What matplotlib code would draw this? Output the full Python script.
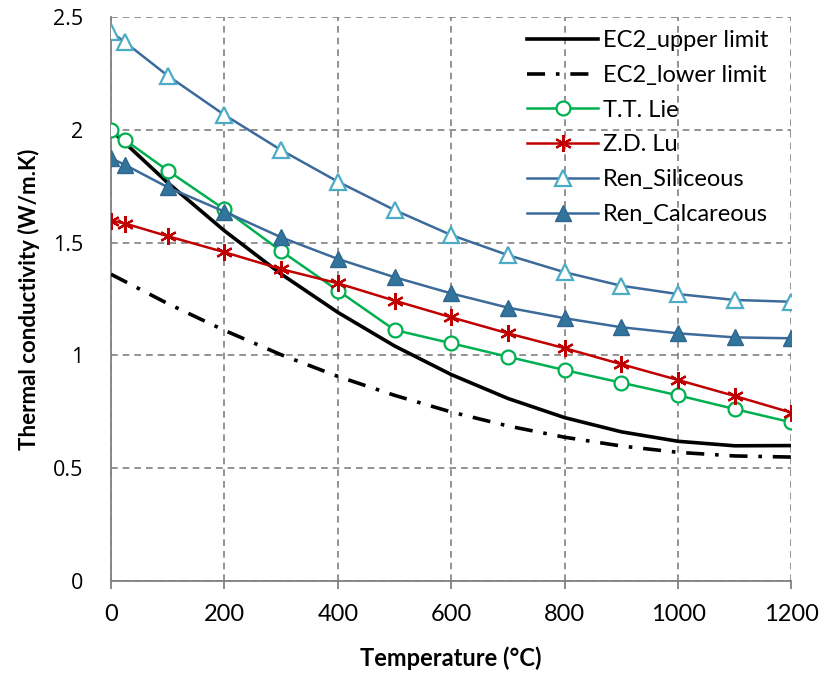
import matplotlib.pyplot as plt

# Temperatures (°C) and thermal conductivity values (W/m.K)
temp_ec2 = [0, 100, 200, 300, 400, 500, 600, 700, 800, 900, 1000, 1100, 1200]
ec2_upper = [2.0, 1.766, 1.553, 1.361, 1.191, 1.042, 0.915, 0.809, 0.724, 0.661, 0.619, 0.599, 0.600]
ec2_lower = [1.36, 1.230, 1.111, 1.003, 0.907, 0.823, 0.749, 0.687, 0.637, 0.598, 0.570, 0.554, 0.549]

temp_test = [0, 25, 100, 200, 300, 400, 500, 600, 700, 800, 900, 1000, 1100, 1200]
tt_lie = [2.0, 1.955, 1.82, 1.648, 1.463, 1.288, 1.113, 1.054, 0.994, 0.935, 0.879, 0.823, 0.762, 0.703]
zd_lu = [1.598, 1.585, 1.529, 1.458, 1.383, 1.320, 1.243, 1.169, 1.098, 1.032, 0.961, 0.891, 0.820, 0.746]
ren_siliceous = [2.435, 2.389, 2.241, 2.067, 1.911, 1.771, 1.645, 1.534, 1.445, 1.369, 1.309, 1.272, 1.246, 1.238]
ren_calcareous = [1.875, 1.845, 1.746, 1.638, 1.524, 1.428, 1.347, 1.275, 1.212, 1.165, 1.125, 1.098, 1.080, 1.076]

x_ticks = [0, 200, 400, 600, 800, 1000, 1200]
y_ticks = [0, 0.5, 1, 1.5, 2, 2.5]
y_tick_labels = ['0', '0.5', '1', '1.5', '2', '2.5']

plt.rcParams['font.family'] = ['Lato', 'DejaVu Sans']

fig = plt.figure(figsize=(8.2, 6.79), dpi=100)
ax = fig.add_axes([0.1354, 0.1446, 0.8298, 0.8299])

ax.plot(temp_ec2, ec2_upper, color='black', lw=2.6, label='EC2_upper limit', zorder=3)
ax.plot(temp_ec2, ec2_lower, color='black', lw=2.6, dashes=(5, 3, 1, 3),
        label='EC2_lower limit', zorder=3)
ax.plot(temp_test, tt_lie, color='#00B050', lw=1.8, marker='o', ms=10,
        mfc='white', mec='#00B050', mew=1.6, label='T.T. Lie', zorder=4)
ax.plot(temp_test, zd_lu, color='#C00000', lw=1.8, marker=(6, 2, 0), ms=12,
        mec='#C00000', mew=1.6, label='Z.D. Lu', zorder=4)
ax.plot(temp_test, ren_siliceous, color='#3B6A9B', lw=1.8, marker='^', ms=11,
        mfc='white', mec='#4BACC6', mew=1.6, label='Ren_Siliceous', zorder=4)
ax.plot(temp_test, ren_calcareous, color='#3B6A9B', lw=1.8, marker='^', ms=11,
        mfc='#31759C', mec='#2E6690', mew=1.0, label='Ren_Calcareous', zorder=4)

ax.set_xlim(0, 1200)
ax.set_ylim(0, 2.5)
ax.set_xticks(x_ticks)
ax.set_yticks(y_ticks)
ax.set_yticklabels(y_tick_labels, family='Open Sans')

ax.grid(True, color='#808080', ls=(0, (4, 3)), lw=1.2)
ax.set_axisbelow(True)
for side in ['top', 'right']:
    ax.spines[side].set_visible(False)
for side in ['left', 'bottom']:
    ax.spines[side].set_color('#808080')
    ax.spines[side].set_linewidth(1.3)

ax.tick_params(axis='x', direction='out', length=6, color='#808080', width=1.3,
               labelsize=17, pad=11)
ax.tick_params(axis='y', length=0, labelsize=15.5, pad=20)

ax.set_xlabel('Temperature (°C)', fontsize=17, fontweight='bold', labelpad=15)
ax.set_ylabel('Thermal conductivity (W/m.K)', fontsize=16, fontweight='bold', labelpad=9)

ax.legend(loc='upper right', bbox_to_anchor=(0.985, 1.0), frameon=False, fontsize=17,
          handlelength=3.0, numpoints=1, labelspacing=0.58, handletextpad=0.2,
          borderaxespad=0.15)

plt.savefig('out.png', dpi=100)
